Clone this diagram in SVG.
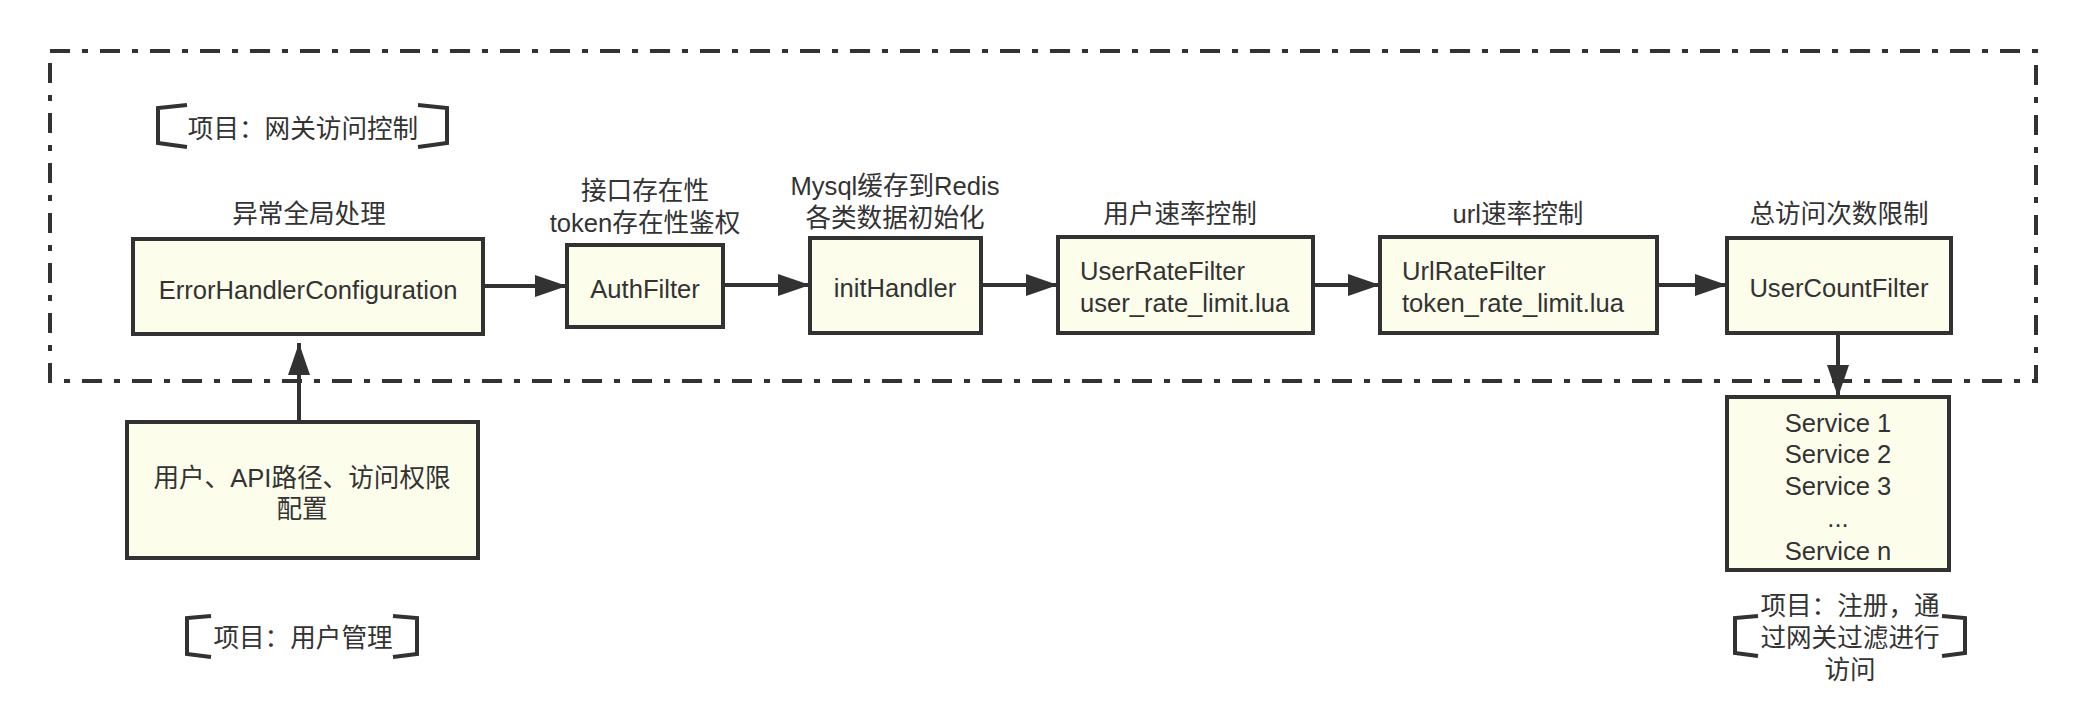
<svg xmlns="http://www.w3.org/2000/svg" width="2086" height="714" viewBox="0 0 2086 714">
<style>
  text { font-family: "Liberation Sans", "Noto Sans CJK SC", sans-serif; font-size: 25.6px; fill: #333333; }
  .c { text-anchor: middle; }
  .box { fill: #fdfdec; stroke: #323232; stroke-width: 4; }
  .edge { fill: none; stroke: #323232; stroke-width: 4; }
  .brk { fill: none; stroke: #323232; stroke-width: 4; stroke-linejoin: miter; }
  .frame { fill: none; stroke: #323232; stroke-width: 4; stroke-dasharray: 20 12 6 12; }
</style>
<defs>
  <marker id="arrow" markerUnits="userSpaceOnUse" markerWidth="32" markerHeight="22" refX="32" refY="11" orient="auto">
    <path d="M0,0 L32,11 L0,22 Z" fill="#323232"/>
  </marker>
</defs>
<rect width="2086" height="714" fill="#ffffff"/>

<g id="gateway-frame">
  <rect class="frame" x="50" y="51" width="1986" height="330"/>
  <path class="brk" d="M187,105 L158,108 L158,143 L187,147"/>
  <path class="brk" d="M418,105 L447,108 L447,143 L418,147"/>
  <text class="c" x="303" y="138">项目：网关访问控制</text>
</g>

<g id="connectors">
  <line class="edge" x1="483" y1="286" x2="567" y2="286" marker-end="url(#arrow)"/>
  <line class="edge" x1="723" y1="285" x2="810" y2="285" marker-end="url(#arrow)"/>
  <line class="edge" x1="981" y1="285" x2="1058" y2="285" marker-end="url(#arrow)"/>
  <line class="edge" x1="1313" y1="285" x2="1380" y2="285" marker-end="url(#arrow)"/>
  <line class="edge" x1="1657" y1="285" x2="1727" y2="285" marker-end="url(#arrow)"/>
  <line class="edge" x1="1838" y1="333" x2="1838" y2="397" marker-end="url(#arrow)"/>
  <line class="edge" x1="299" y1="422" x2="299" y2="343" marker-end="url(#arrow)"/>
</g>

<g id="error-handler">
  <text class="c" x="309" y="223">异常全局处理</text>
  <rect class="box" x="133" y="239" width="350" height="95"/>
  <text class="c" x="308" y="299">ErrorHandlerConfiguration</text>
</g>

<g id="auth-filter">
  <text class="c" x="645" y="200">接口存在性</text>
  <text class="c" x="645" y="232">token存在性鉴权</text>
  <rect class="box" x="567" y="245" width="156" height="82"/>
  <text class="c" x="645" y="298">AuthFilter</text>
</g>

<g id="init-handler">
  <text class="c" x="895" y="195">Mysql缓存到Redis</text>
  <text class="c" x="895" y="227">各类数据初始化</text>
  <rect class="box" x="810" y="238" width="171" height="95"/>
  <text class="c" x="895" y="297">initHandler</text>
</g>

<g id="user-rate-filter">
  <text class="c" x="1180" y="223">用户速率控制</text>
  <rect class="box" x="1058" y="237" width="255" height="96"/>
  <text x="1080" y="280">UserRateFilter</text>
  <text x="1080" y="312">user_rate_limit.lua</text>
</g>

<g id="url-rate-filter">
  <text class="c" x="1518" y="223">url速率控制</text>
  <rect class="box" x="1380" y="237" width="277" height="96"/>
  <text x="1402" y="280">UrlRateFilter</text>
  <text x="1402" y="312">token_rate_limit.lua</text>
</g>

<g id="user-count-filter">
  <text class="c" x="1839" y="223">总访问次数限制</text>
  <rect class="box" x="1727" y="238" width="224" height="95"/>
  <text class="c" x="1839" y="297">UserCountFilter</text>
</g>

<g id="services">
  <rect class="box" x="1727" y="397" width="222" height="173"/>
  <text class="c" x="1838" y="432">Service 1</text>
  <text class="c" x="1838" y="463">Service 2</text>
  <text class="c" x="1838" y="495">Service 3</text>
  <text class="c" x="1838" y="527">...</text>
  <text class="c" x="1838" y="560">Service n</text>
</g>

<g id="user-config">
  <rect class="box" x="127" y="422" width="351" height="136"/>
  <text class="c" x="302" y="487">用户、API路径、访问权限</text>
  <text class="c" x="302" y="518">配置</text>
</g>

<g id="user-mgmt-label">
  <path class="brk" d="M211,616 L187,618 L187,654 L211,657"/>
  <path class="brk" d="M393,616 L417,618 L417,654 L393,657"/>
  <text class="c" x="303" y="647">项目：用户管理</text>
</g>

<g id="register-label">
  <path class="brk" d="M1758,616 L1735,618 L1735,653 L1758,656"/>
  <path class="brk" d="M1942,616 L1965,618 L1965,653 L1942,656"/>
  <text class="c" x="1850" y="615">项目：注册，通</text>
  <text class="c" x="1850" y="647">过网关过滤进行</text>
  <text class="c" x="1850" y="679">访问</text>
</g>
</svg>
